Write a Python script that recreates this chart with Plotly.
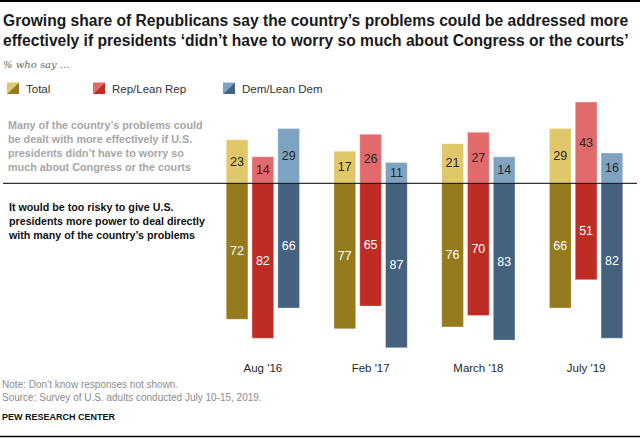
import plotly.graph_objects as go

# ===================== data =====================
CATEGORIES = ["Aug '16", "Feb '17", "March '18", "July '19"]

TOTAL_MORE = [23, 17, 21, 29]
REP_MORE = [14, 26, 27, 43]
DEM_MORE = [29, 11, 14, 16]

TOTAL_RISKY = [72, 77, 76, 66]
REP_RISKY = [82, 65, 70, 51]
DEM_RISKY = [66, 87, 83, 82]

SERIES_NAMES = ["Total", "Rep/Lean Rep", "Dem/Lean Dem"]

# ===================== style =====================
W, H = 640, 438
SANS = "Liberation Sans, Arial, sans-serif"

LIGHT = ["#E0C76A", "#E26A6B", "#7EA3C2"]
DARK = ["#957A1E", "#BE2C25", "#44627F"]


def py(px):
    # pixel row from top -> paper y
    return 1 - px / H


def px_x(px):
    return px / W


fig = go.Figure()

more = [TOTAL_MORE, REP_MORE, DEM_MORE]
risky = [TOTAL_RISKY, REP_RISKY, DEM_RISKY]

for i, name in enumerate(SERIES_NAMES):
    fig.add_trace(
        go.Bar(
            x=CATEGORIES,
            y=more[i],
            text=more[i],
            name=name,
            offsetgroup=str(i),
            marker=dict(color=LIGHT[i], line=dict(color="rgba(255,255,255,0.6)", width=0.5)),
            textposition="inside",
            insidetextanchor="middle",
            textangle=0,
            textfont=dict(family=SANS, size=12.5, color="#262626"),
            showlegend=False,
        )
    )
    fig.add_trace(
        go.Bar(
            x=CATEGORIES,
            y=[-v for v in risky[i]],
            text=risky[i],
            name=name,
            offsetgroup=str(i),
            marker=dict(color=DARK[i], line=dict(color="rgba(255,255,255,0.6)", width=0.5)),
            textposition="inside",
            insidetextanchor="middle",
            textangle=0,
            textfont=dict(family=SANS, size=12.5, color="white"),
            showlegend=False,
        )
    )

# zero line + borders
shapes = [
    dict(type="line", xref="paper", yref="y", x0=px_x(3), x1=px_x(637), y0=0, y1=0,
         line=dict(color="black", width=1)),
    dict(type="line", xref="paper", yref="paper", x0=0, x1=1, y0=py(1), y1=py(1),
         line=dict(color="black", width=2)),
    dict(type="line", xref="paper", yref="paper", x0=0, x1=1, y0=py(436.5), y1=py(436.5),
         line=dict(color="black", width=1.5)),
]

# legend icons (split squares)
legend_x = [7, 93, 223]
legend_text_x = [24, 110, 240]
top, bot = 82.5, 94
annotations = []
for i, name in enumerate(SERIES_NAMES):
    x0, x1 = px_x(legend_x[i]), px_x(legend_x[i] + 12)
    y0, y1 = py(top), py(bot)
    shapes.append(dict(type="path", xref="paper", yref="paper",
                       path=f"M {x0},{y0} L {x1},{y0} L {x0},{y1} Z",
                       fillcolor=LIGHT[i], line=dict(width=0)))
    shapes.append(dict(type="path", xref="paper", yref="paper",
                       path=f"M {x1},{y0} L {x1},{y1} L {x0},{y1} Z",
                       fillcolor=DARK[i], line=dict(width=0)))
    annotations.append(dict(text=name, xref="paper", yref="paper", x=px_x(legend_text_x[i]),
                             y=py(88.5), xanchor="left", yanchor="middle", showarrow=False,
                             font=dict(family=SANS, size=11.5, color="#333333")))

annotations += [
    dict(text="<b>Growing share of Republicans say the country’s problems could be addressed more<br>"
              "effectively if presidents ‘didn’t have to worry so much about Congress or the courts’</b>",
         xref="paper", yref="paper", x=px_x(1), y=py(10), xanchor="left", yanchor="top",
         align="left", showarrow=False, font=dict(family=SANS, size=15.6, color="#1a1a1a")),
    dict(text="<i>% who say ...</i>", xref="paper", yref="paper", x=px_x(1), y=py(65),
         xanchor="left", yanchor="middle", showarrow=False,
         font=dict(family="DejaVu Serif, Liberation Serif, serif", size=10, color="#666666")),
    dict(text="<b>Many of the country’s problems could<br>be dealt with more effectively if U.S.<br>"
              "presidents didn’t have to worry so<br>much about Congress or the courts</b>",
         xref="paper", yref="paper", x=px_x(6), y=py(117), xanchor="left", yanchor="top",
         align="left", showarrow=False, font=dict(family=SANS, size=10.8, color="#A6A6A6")),
    dict(text="<b>It would be too risky to give U.S.<br>presidents more power to deal directly<br>"
              "with many of the country’s problems</b>",
         xref="paper", yref="paper", x=px_x(6), y=py(199), xanchor="left", yanchor="top",
         align="left", showarrow=False, font=dict(family=SANS, size=10.7, color="#111111")),
    dict(text="Note: Don’t know responses not shown.<br>Source: Survey of U.S. adults conducted July 10-15, 2019.",
         xref="paper", yref="paper", x=0, y=py(377), xanchor="left", yanchor="top",
         align="left", showarrow=False, font=dict(family=SANS, size=10, color="#8C8C8C")),
    dict(text="<b>PEW RESEARCH CENTER</b>", xref="paper", yref="paper", x=0, y=py(417),
         xanchor="left", yanchor="middle", showarrow=False,
         font=dict(family=SANS, size=9, color="#111111")),
]

fig.update_layout(
    width=W,
    height=H,
    margin=dict(l=0, r=0, t=0, b=0),
    paper_bgcolor="white",
    plot_bgcolor="white",
    barmode="group",
    bargap=0.282,
    bargroupgap=0.159,
    xaxis=dict(
        domain=[209 / W, 1.0],
        range=[-0.5, 3.5],
        showgrid=False,
        zeroline=False,
        showline=False,
        ticks="",
        tickfont=dict(family=SANS, size=11.5, color="#262626"),
    ),
    yaxis=dict(
        domain=[py(359), py(88.85)],
        range=[-93, 50],
        showgrid=False,
        zeroline=False,
        showticklabels=False,
    ),
    shapes=shapes,
    annotations=annotations,
)

# page has default 8px body margin; drop it so the figure fills the window
fig.write_html(
    "out.html",
    config={"displayModeBar": False},
    post_script="document.body.style.margin='0';",
)
